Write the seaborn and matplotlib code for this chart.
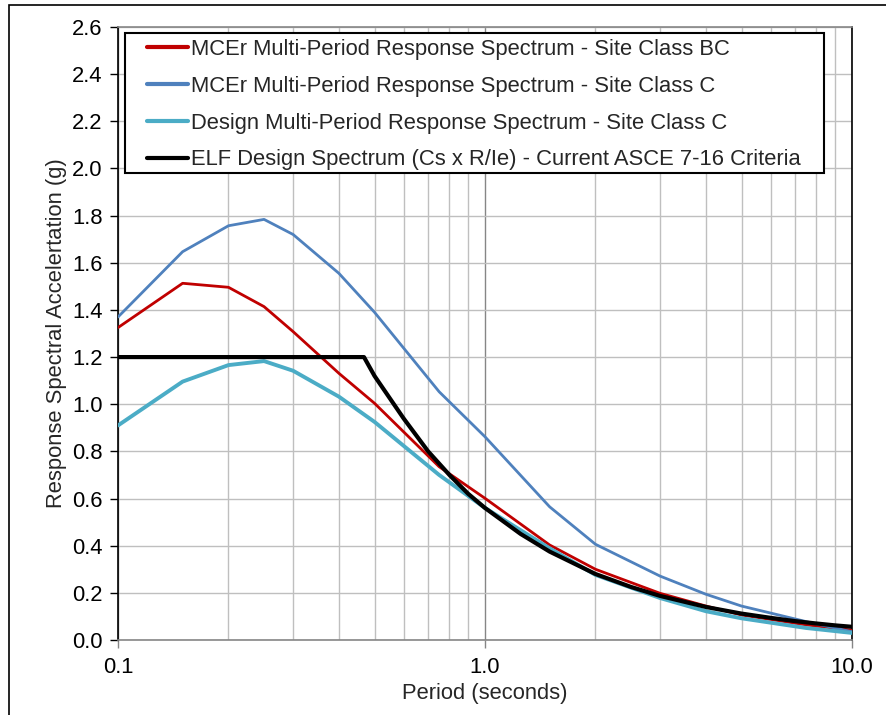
import numpy as np
import pandas as pd
import matplotlib
matplotlib.use("Agg")
import matplotlib.pyplot as plt
from matplotlib.ticker import FixedLocator, LogLocator, NullFormatter
from matplotlib.patches import Rectangle
import seaborn as sns

# =========================
# DATA
# =========================
periods = [0.1, 0.15, 0.2, 0.25, 0.3, 0.4, 0.5, 0.75, 1.0, 1.5, 2.0, 3.0, 4.0, 5.0, 7.5, 10.0]
mcer_bc = [1.325, 1.513, 1.496, 1.414, 1.308, 1.131, 1.004, 0.735, 0.601, 0.403, 0.300, 0.198, 0.144, 0.106, 0.064, 0.042]
mcer_c = [1.370, 1.647, 1.757, 1.784, 1.720, 1.555, 1.390, 1.053, 0.862, 0.565, 0.406, 0.271, 0.194, 0.144, 0.078, 0.035]
design_c = [0.910, 1.096, 1.166, 1.183, 1.142, 1.032, 0.925, 0.700, 0.560, 0.389, 0.276, 0.178, 0.122, 0.092, 0.051, 0.030]

elf_periods = [0.1, 0.468, 0.5, 0.6, 0.7, 0.8, 0.9, 1.0, 1.25, 1.5, 2.0, 2.5, 3.0, 4.0, 5.0, 6.0, 7.0, 8.0, 9.0, 10.0]
elf_values = [1.2, 1.2, 1.12, 0.94, 0.80, 0.70, 0.62, 0.56, 0.45, 0.375, 0.28, 0.225, 0.187, 0.14, 0.112, 0.094, 0.08, 0.07, 0.062, 0.056]

labels = [
    "MCEr Multi-Period Response Spectrum - Site Class BC",
    "MCEr Multi-Period Response Spectrum - Site Class C",
    "Design Multi-Period Response Spectrum - Site Class C",
    "ELF Design Spectrum (Cs x R/Ie) - Current ASCE 7-16 Criteria",
]
colors = ["#C00000", "#4F81BD", "#4BACC6", "#000000"]
widths = [2.0, 2.0, 2.8, 3.0]

FS = 15.8

# =========================
# PLOT
# =========================
sns.set_theme(style="white")
plt.rcParams["font.family"] = ["Liberation Sans", "DejaVu Sans"]

fig = plt.figure(figsize=(8.86, 7.15), dpi=100)
ax = fig.add_axes([118 / 886, 1 - 640 / 715, 734 / 886, 613 / 715])

series = [
    (periods, mcer_bc),
    (periods, mcer_c),
    (periods, design_c),
    (elf_periods, elf_values),
]
for (x, y), lab, c, w in zip(series, labels, colors, widths):
    df = pd.DataFrame({"Period": x, "Sa": y})
    sns.lineplot(data=df, x="Period", y="Sa", ax=ax, color=c, linewidth=w,
                 label=lab, sort=False, estimator=None, zorder=3)

ax.set_xscale("log")
ax.set_xlim(0.1, 10)
ax.set_ylim(0, 2.6)
ax.set_yticks(np.arange(0, 2.61, 0.2))
ax.set_yticklabels([f"{v:.1f}" for v in np.arange(0, 2.61, 0.2)])
ax.xaxis.set_major_locator(FixedLocator([0.1, 1, 10]))
ax.set_xticklabels(["0.1", "1.0", "10.0"])
ax.xaxis.set_minor_locator(LogLocator(base=10, subs=np.arange(2, 10)))
ax.xaxis.set_minor_formatter(NullFormatter())

ax.grid(True, which="major", axis="y", color="#BFBFBF", linewidth=1.0, zorder=0)
ax.grid(True, which="minor", axis="x", color="#BFBFBF", linewidth=1.0, zorder=0)
ax.grid(True, which="major", axis="x", color="#868686", linewidth=1.0, zorder=0)

ax.tick_params(axis="both", which="major", direction="out", length=6, width=1,
               labelsize=FS, colors="black", left=True, bottom=True)
ax.tick_params(axis="x", which="minor", length=0)
ax.tick_params(axis="x", which="major", color="#868686", pad=6)
ax.tick_params(axis="y", which="major", pad=5)

for side in ["left", "right"]:
    ax.spines[side].set_color("black")
    ax.spines[side].set_linewidth(1.2)
for side in ["top", "bottom"]:
    ax.spines[side].set_color("#868686")
    ax.spines[side].set_linewidth(1.2)

ax.set_xlabel("Period (seconds)", fontsize=FS, labelpad=4)
ax.set_ylabel("Response Spectral Accelertation (g)", fontsize=FS, labelpad=4)

# legend box drawn separately, legend entries placed inside it
ax.add_patch(Rectangle((7 / 734, 467 / 613), 699 / 734, 140 / 613,
                       transform=ax.transAxes, facecolor="white",
                       edgecolor="black", linewidth=1.5, zorder=4))
leg = ax.legend(loc="upper left", bbox_to_anchor=(29 / 734, 601 / 613),
                borderaxespad=0, borderpad=0, frameon=False,
                fontsize=FS, handlelength=1.85, handletextpad=0.15,
                labelspacing=0.72)
leg.set_zorder(5)
for h in leg.get_lines():
    h.set_linewidth(3.0)

# outer chart border
fig.patches.append(Rectangle((9 / 886, -0.1), 1.2, 1 - 5 / 715 + 0.1,
                             transform=fig.transFigure, fill=False,
                             edgecolor="black", linewidth=1.2))

fig.savefig("out.png", dpi=100)
